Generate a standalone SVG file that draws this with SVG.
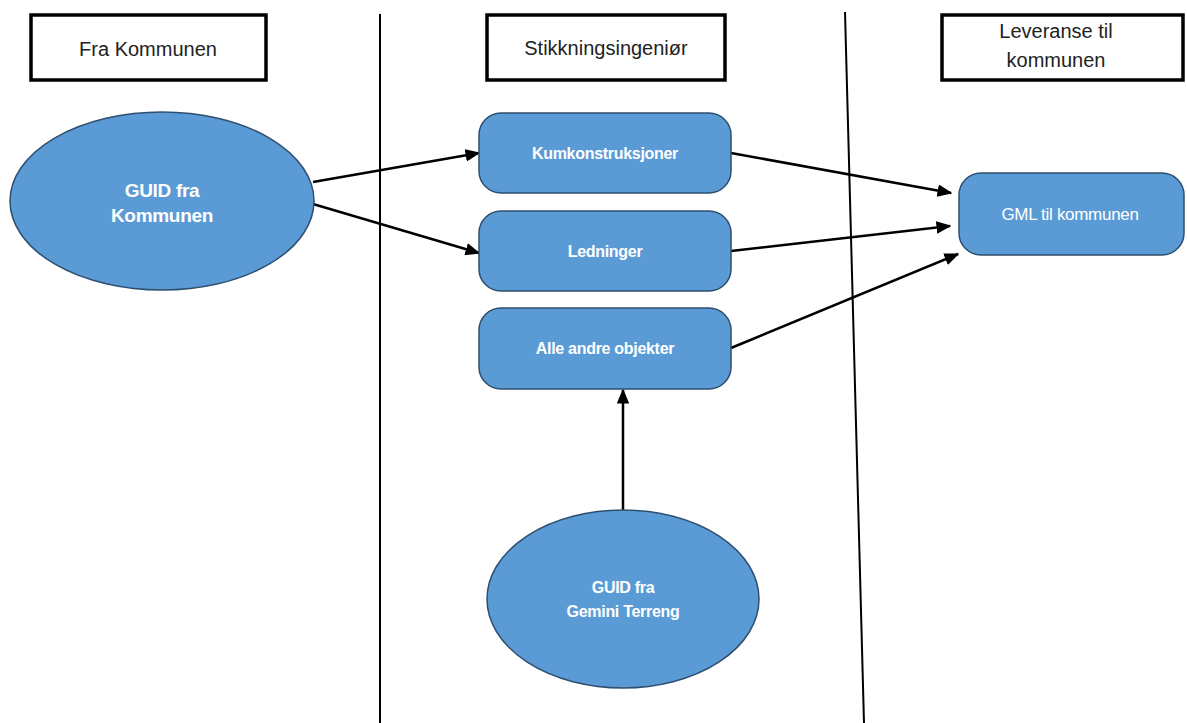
<svg xmlns="http://www.w3.org/2000/svg" width="1187" height="723" viewBox="0 0 1187 723">
<defs>
<style>
.hdr{fill:#fff;stroke:#000;stroke-width:3.5}
.hdrt{font-family:"Liberation Sans",Arial,sans-serif;font-size:20px;fill:#222;text-anchor:middle}
.node{fill:#5b9bd5;stroke:#2e4f70;stroke-width:1.5}
.nt{font-family:"Liberation Sans",Arial,sans-serif;font-weight:bold;font-size:16px;fill:#fff;text-anchor:middle;letter-spacing:-0.3px}
.sep{stroke:#000;stroke-width:2;fill:none}
.conn{stroke:#000;stroke-width:2.5;fill:none;marker-end:url(#arr)}
</style>
<marker id="arr" viewBox="0 0 10 10" refX="9" refY="5" markerWidth="6" markerHeight="5" orient="auto" markerUnits="strokeWidth" preserveAspectRatio="none">
<path d="M0,0 L10,5 L0,10 z" fill="#000"/>
</marker>
</defs>
<rect width="1187" height="723" fill="#fff"/>
<g id="separators">
<line class="sep" x1="380" y1="14" x2="380" y2="723"/>
<line class="sep" x1="845" y1="12" x2="864" y2="723"/>
</g>
<g id="hdr-fra">
<rect class="hdr" x="31" y="15" width="235" height="65"/>
<text class="hdrt" x="148" y="56">Fra Kommunen</text>
</g>
<g id="hdr-stikk">
<rect class="hdr" x="487" y="15" width="238" height="65"/>
<text class="hdrt" x="606" y="55">Stikkningsingeniør</text>
</g>
<g id="hdr-lev">
<rect class="hdr" x="942" y="15" width="241" height="65"/>
<text class="hdrt" x="1056" y="38">Leveranse til</text>
<text class="hdrt" x="1056" y="67">kommunen</text>
</g>
<g id="connectors">
<line class="conn" x1="313" y1="182" x2="479" y2="153"/>
<line class="conn" x1="313" y1="204" x2="479" y2="253"/>
<line class="conn" x1="731" y1="153" x2="951" y2="193"/>
<line class="conn" x1="731" y1="251" x2="950" y2="226"/>
<line class="conn" x1="731" y1="348" x2="958" y2="254"/>
<line class="conn" x1="623" y1="510" x2="623" y2="390"/>
</g>
<g id="guid-kommunen">
<ellipse class="node" cx="162" cy="201" rx="152" ry="89"/>
<text class="nt" x="162" y="197" style="font-size:19px">GUID fra</text>
<text class="nt" x="162" y="222" style="font-size:19px">Kommunen</text>
</g>
<g id="kumkonstruksjoner">
<rect class="node" x="479" y="113" width="252" height="80" rx="22"/>
<text class="nt" x="605" y="159">Kumkonstruksjoner</text>
</g>
<g id="ledninger">
<rect class="node" x="479" y="211" width="252" height="80" rx="22"/>
<text class="nt" x="605" y="257">Ledninger</text>
</g>
<g id="alle-andre">
<rect class="node" x="479" y="308" width="252" height="81" rx="22"/>
<text class="nt" x="605" y="354">Alle andre objekter</text>
</g>
<g id="gml">
<rect class="node" x="959" y="173" width="225" height="82" rx="22"/>
<text class="nt" x="1070" y="220" style="font-weight:normal;font-size:17px">GML til kommunen</text>
</g>
<g id="guid-gemini">
<ellipse class="node" cx="623" cy="599" rx="136" ry="89"/>
<text class="nt" x="623" y="593">GUID fra</text>
<text class="nt" x="623" y="617">Gemini Terreng</text>
</g>
</svg>
